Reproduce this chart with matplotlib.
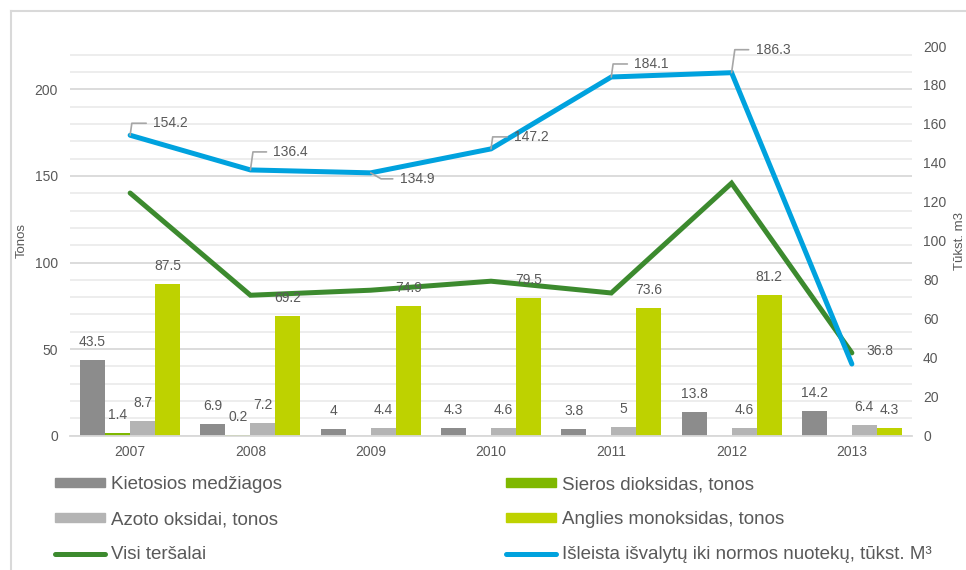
import matplotlib
matplotlib.use("Agg")
import matplotlib.pyplot as plt
import numpy as np
from matplotlib.lines import Line2D
from matplotlib.patches import Patch

plt.rcParams["font.family"] = ["Liberation Sans", "DejaVu Sans"]

years = ["2007", "2008", "2009", "2010", "2011", "2012", "2013"]
kietosios = [43.5, 6.9, 4, 4.3, 3.8, 13.8, 14.2]
sieros = [1.4, 0.2, np.nan, np.nan, np.nan, np.nan, np.nan]
azoto = [8.7, 7.2, 4.4, 4.6, 5, 4.6, 6.4]
anglies = [87.5, 69.2, 74.9, 79.5, 73.6, 81.2, 4.3]
visi = [140.1, 81.1, 84.0, 89.2, 82.4, 145.8, 47.8]
nuotekos = [154.2, 136.4, 134.9, 147.2, 184.1, 186.3, 36.8]

# label offsets (pixels) for the wastewater series callouts
callout_offsets = [(23, 12), (23, 18), (29, -6), (23, 12), (23, 13), (24, 23), (15, 13)]

TXT = "#595959"
C_KIET = "#8c8c8c"
C_SIER = "#7fb800"
C_AZOT = "#b4b4b4"
C_ANGL = "#bed200"
C_VISI = "#3c8a2e"
C_NUOT = "#00a2de"

fig = plt.figure(figsize=(9.66, 5.7), dpi=100)
ax = fig.add_axes([70 / 966, 1 - 435.7 / 570, 842 / 966, 389.7 / 570])
ax2 = ax.twinx()

x = np.arange(len(years))
w = 0.208
series = [(kietosios, C_KIET), (sieros, C_SIER), (azoto, C_AZOT), (anglies, C_ANGL)]
for i, (vals, col) in enumerate(series):
    pos = x + (i - 1.5) * w
    ax.bar(pos, vals, width=w, color=col, zorder=2)
    for px, v in zip(pos, vals):
        if np.isnan(v):
            continue
        ax.annotate(f"{v:g}", (px, v), xytext=(0, 18), textcoords="offset pixels",
                    ha="center", va="center", fontsize=10, color=TXT, zorder=5)

ax.plot(x, visi, color=C_VISI, linewidth=3.6, solid_capstyle="round",
        solid_joinstyle="miter", zorder=3)

ax.set_xlim(-0.5, len(years) - 0.5)
ax.set_ylim(0, 225)
ax.set_yticks(range(0, 201, 50))
ax.set_yticks(range(0, 221, 10), minor=True)
ax.grid(axis="y", which="minor", color="#ececec", linewidth=1.3, zorder=0)
ax.grid(axis="y", which="major", color="#d9d9d9", linewidth=1.3, zorder=0)
ax.set_axisbelow(True)
ax.set_xticks(x)
ax.set_xticklabels(years)
ax.tick_params(axis="both", which="both", length=0, labelsize=10, labelcolor=TXT)
ax.tick_params(axis="y", pad=8.6)
ax.tick_params(axis="x", pad=7)
for s in ["top", "right", "left"]:
    ax.spines[s].set_visible(False)
ax.spines["bottom"].set_color("#d9d9d9")
ax.spines["bottom"].set_linewidth(1.3)

ax2.plot(x, nuotekos, color=C_NUOT, linewidth=3.6, solid_capstyle="round",
         solid_joinstyle="miter", zorder=3)
ax2.set_ylim(0, 200)
ax2.set_yticks(range(0, 201, 20))
ax2.tick_params(axis="y", length=0, labelsize=10, labelcolor=TXT, pad=8)
for s in ax2.spines.values():
    s.set_visible(False)

for i, (v, off) in enumerate(zip(nuotekos, callout_offsets)):
    if i == len(nuotekos) - 1:
        ax2.annotate(f"{v:g}", (x[i], v), xytext=off, textcoords="offset pixels",
                     ha="left", va="center", fontsize=10, color=TXT)
        continue
    angle_b = -30 if off[1] < 0 else 82
    ax2.annotate(f"{v:g}", (x[i], v), xytext=off, textcoords="offset pixels",
                 ha="left", va="center", fontsize=10, color=TXT,
                 arrowprops=dict(arrowstyle="-", color="#a6a6a6", linewidth=1.2,
                                 connectionstyle=f"angle,angleA=0,angleB={angle_b},rad=0",
                                 relpos=(0, 0.5), shrinkA=3, shrinkB=0))

fig.text(22 / 966, 1 - 241 / 570, "Tonos", rotation=90, ha="center", va="center",
         fontsize=9.5, color=TXT)
fig.text(960 / 966, 1 - 241 / 570, "Tūkst. m3", rotation=90, ha="center", va="center",
         fontsize=9.5, color=TXT)

# legend, two columns
h_left = [Patch(color=C_KIET), Patch(color=C_AZOT),
          Line2D([], [], color=C_VISI, linewidth=3.6, solid_capstyle="round")]
l_left = ["Kietosios medžiagos", "Azoto oksidai, tonos", "Visi teršalai"]
h_right = [Patch(color=C_SIER), Patch(color=C_ANGL),
           Line2D([], [], color=C_NUOT, linewidth=3.6, solid_capstyle="round")]
l_right = ["Sieros dioksidas, tonos", "Anglies monoksidas, tonos",
           "Išleista išvalytų iki normos nuotekų, tūkst. M³"]
leg_kw = dict(loc="upper left", frameon=False, fontsize=13.5, handlelength=2.67,
              handleheight=0.37, handletextpad=0.32, labelspacing=0.97,
              borderpad=0, borderaxespad=0, labelcolor=TXT)
fig.legend(h_left, l_left, bbox_to_anchor=(55 / 966, 1 - 476 / 570), **leg_kw)
fig.legend(h_right, l_right, bbox_to_anchor=(506 / 966, 1 - 476 / 570), **leg_kw)

# outer frame (top and left edges)
fig.add_artist(Line2D([10.5 / 966, 1], [1 - 10.5 / 570] * 2, color="#d9d9d9",
                      linewidth=1.5, transform=fig.transFigure))
fig.add_artist(Line2D([10.5 / 966] * 2, [0, 1 - 10.5 / 570], color="#d9d9d9",
                      linewidth=1.5, transform=fig.transFigure))

fig.savefig("out.png", dpi=100)
